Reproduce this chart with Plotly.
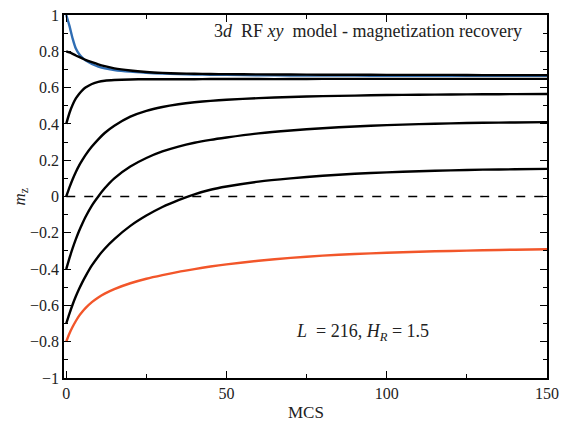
import plotly.graph_objects as go

mcs = [0, 1, 2, 3, 4, 5, 6, 8, 10, 12, 15, 20, 25, 30, 35, 40, 45, 50, 60, 70, 80, 90, 100, 110, 120, 130, 140, 150]

m_from_1 = [1.0, 0.94, 0.87, 0.815, 0.785, 0.765, 0.75, 0.73, 0.716, 0.706, 0.697, 0.688, 0.682, 0.677, 0.674, 0.672, 0.671, 0.670, 0.668, 0.667, 0.666, 0.666, 0.665, 0.665, 0.665, 0.665, 0.665, 0.665]
m_from_08 = [0.80, 0.794, 0.786, 0.777, 0.769, 0.761, 0.753, 0.74, 0.728, 0.718, 0.706, 0.694, 0.686, 0.681, 0.678, 0.676, 0.675, 0.674, 0.673, 0.672, 0.671, 0.671, 0.670, 0.670, 0.670, 0.669, 0.669, 0.669]
m_from_04 = [0.40, 0.46, 0.505, 0.54, 0.565, 0.585, 0.6, 0.62, 0.632, 0.638, 0.642, 0.645, 0.646, 0.646, 0.646, 0.646, 0.647, 0.647, 0.647, 0.647, 0.648, 0.648, 0.648, 0.648, 0.648, 0.648, 0.648, 0.648]
m_from_0 = [0.0, 0.05, 0.095, 0.135, 0.17, 0.2, 0.228, 0.275, 0.315, 0.35, 0.39, 0.44, 0.472, 0.493, 0.508, 0.519, 0.527, 0.533, 0.542, 0.548, 0.553, 0.556, 0.559, 0.561, 0.562, 0.563, 0.564, 0.565]
m_from_m04 = [-0.40, -0.34, -0.285, -0.235, -0.19, -0.15, -0.113, -0.05, 0.0, 0.045, 0.1, 0.165, 0.212, 0.248, 0.275, 0.296, 0.312, 0.325, 0.348, 0.364, 0.376, 0.386, 0.393, 0.399, 0.403, 0.406, 0.408, 0.41]
m_from_m07 = [-0.70, -0.645, -0.595, -0.55, -0.51, -0.473, -0.44, -0.38, -0.33, -0.288, -0.235, -0.162, -0.105, -0.058, -0.02, 0.012, 0.037, 0.055, 0.082, 0.1, 0.114, 0.125, 0.133, 0.139, 0.144, 0.148, 0.15, 0.152]
m_from_m08 = [-0.80, -0.755, -0.718, -0.686, -0.658, -0.635, -0.615, -0.582, -0.556, -0.535, -0.51, -0.478, -0.453, -0.433, -0.415, -0.4, -0.386, -0.374, -0.354, -0.338, -0.326, -0.317, -0.31, -0.304, -0.3, -0.296, -0.293, -0.291]

black_series = [m_from_08, m_from_04, m_from_0, m_from_m04, m_from_m07]

SERIF = "Liberation Serif, Times New Roman, Times, serif"
TXT = "#222222"

fig = go.Figure()

fig.add_trace(go.Scatter(x=[0, 150], y=[0, 0], mode="lines",
                         line=dict(color="black", width=1.5, dash="dash"),
                         hoverinfo="skip", showlegend=False))

fig.add_trace(go.Scatter(x=mcs, y=m_from_1, mode="lines",
                         line=dict(color="#2f6db3", width=2.4, shape="spline", smoothing=0.6),
                         showlegend=False))

for ys in black_series:
    fig.add_trace(go.Scatter(x=mcs, y=ys, mode="lines",
                             line=dict(color="black", width=2.4, shape="spline", smoothing=0.6),
                             showlegend=False))

fig.add_trace(go.Scatter(x=mcs, y=m_from_m08, mode="lines",
                         line=dict(color="#f2562a", width=2.4, shape="spline", smoothing=0.6),
                         showlegend=False))

axis_common = dict(
    showline=True, linecolor="black", linewidth=1.5, mirror="allticks",
    ticks="inside", ticklen=7, tickwidth=1.2, tickcolor="black",
    showgrid=False, zeroline=False, automargin=False, ticklabeloverflow="allow",
    tickfont=dict(family=SERIF, size=16, color=TXT),
)

fig.update_xaxes(range=[-0.7, 150], tickvals=[0, 50, 100, 150],
                 minor=dict(ticks="inside", ticklen=4, tickwidth=1.2, tickcolor="black", dtick=25, tick0=0),
                 **axis_common)
fig.update_yaxes(range=[-1, 1], dtick=0.2, tick0=0,
                 minor=dict(ticks="inside", ticklen=4, tickwidth=1.2, tickcolor="black", dtick=0.1, tick0=0),
                 **axis_common)

ann = dict(xref="paper", yref="paper", showarrow=False, xanchor="center", yanchor="middle")
fig.add_annotation(x=0.629, y=0.955, text="3<i>d</i>  RF <i>xy</i>  model - magnetization recovery",
                   font=dict(family=SERIF, size=18, color=TXT), **ann)
fig.add_annotation(x=0.619, y=0.124, text="<i>L</i>  = 216, <i>H</i><sub><i>R</i></sub> = 1.5",
                   font=dict(family=SERIF, size=18, color=TXT), **ann)
fig.add_annotation(x=0.5, y=-0.094, text="MCS",
                   font=dict(family=SERIF, size=17, color=TXT), **ann)
fig.add_annotation(x=-0.091, y=0.5, text="<i>m</i><sub>z</sub>", textangle=-90,
                   font=dict(family=SERIF, size=17, color=TXT), **ann)

fig.update_layout(width=563, height=425, margin=dict(l=64, r=16, t=15, b=47),
                  plot_bgcolor="white", paper_bgcolor="white")

fig.write_html("out.html", config={"displayModeBar": False},
               post_script="document.body.style.margin='0';document.body.style.overflow='hidden';")
